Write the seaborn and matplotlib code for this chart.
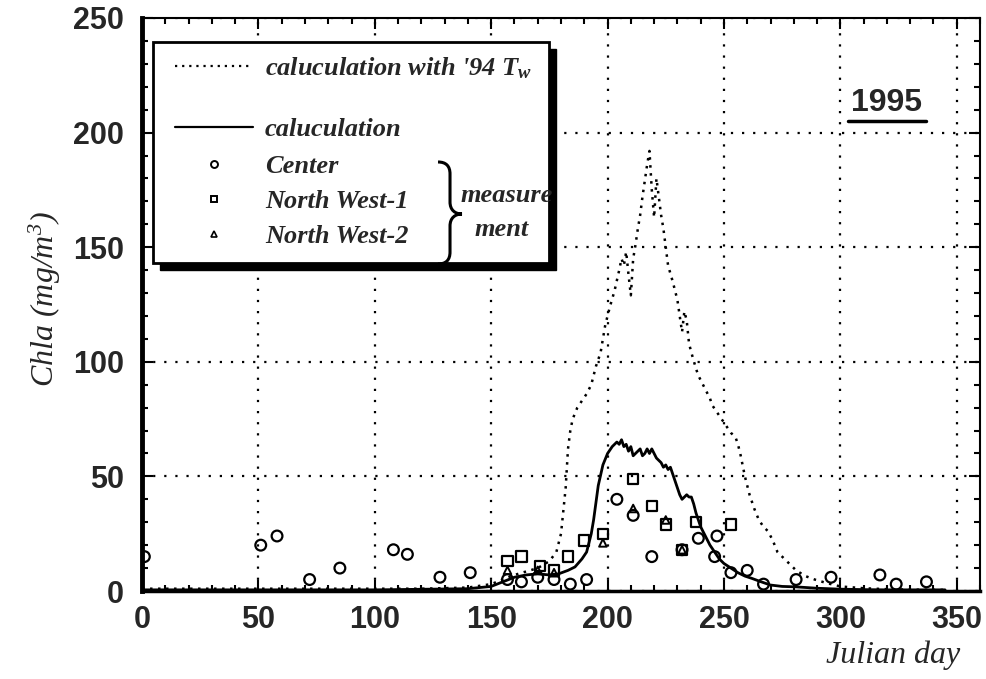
import numpy as np
import pandas as pd
import matplotlib
matplotlib.use('Agg')
import matplotlib.pyplot as plt
import seaborn as sns
from matplotlib.lines import Line2D
from matplotlib.patches import Rectangle, PathPatch
from matplotlib.path import Path
from matplotlib.ticker import MultipleLocator

TICKSLABEL_FONT = {'family': 'Liberation Sans', 'size': 22, 'weight': 'bold'}
LABEL_FONT = {'family': 'Liberation Serif', 'size': 23, 'style': 'italic'}
LEGEND_FONT = {'family': 'Liberation Serif', 'size': 19, 'style': 'italic', 'weight': 'bold'}

# calculation with '94 water temperature (dotted)
calc94_day = [0, 20, 40, 60, 80, 100, 120, 140, 150, 155, 160, 165, 170, 175, 178, 180, 182, 183, 184, 185,
              187, 189, 191, 193, 195, 197, 199, 201, 203, 205, 206, 207, 208, 209, 210, 211, 212, 213, 214,
              215, 216, 217, 218, 219, 220, 221, 222, 223, 224, 225, 226, 228, 230, 231, 232, 233, 234, 235,
              236, 238, 239, 241, 242, 244, 245, 247, 249, 251, 253, 255, 256, 257, 259, 261, 263, 265, 267,
              269, 271, 273, 276, 279, 281, 285, 289, 294, 300, 310, 320, 330, 340, 345]
calc94_chla = [1, 1, 1, 1, 1, 1, 1, 1.5, 3, 5, 7, 8.5, 10, 13, 17, 25, 45, 62, 70, 75,
               80, 83, 86, 90, 98, 104, 116, 124, 131, 140, 145, 142, 148, 138, 129, 145, 151, 158, 164,
               172, 179, 186, 192, 175, 163, 180, 172, 164, 158, 150, 142, 135, 127, 120, 113, 122, 118, 108,
               104, 97, 94, 90, 88, 84, 81, 78, 75, 72, 69, 67, 64, 60, 50, 42, 36, 31, 28,
               26, 22, 17, 14, 11, 9, 6.5, 5, 3.5, 2, 1.2, 0.8, 0.6, 0.5, 0.5]

# calculation (solid)
calc_day = [0, 50, 100, 140, 150, 155, 160, 165, 170, 175, 179, 183, 186, 189, 191, 193, 194, 196, 198, 200,
            202, 204, 205, 206, 207, 208, 209, 210, 211, 212, 213, 214, 215, 216, 217, 218, 219, 220, 221,
            222, 223, 224, 225, 226, 227, 228, 229, 230, 231, 232, 233, 234, 235, 236, 237, 238, 240, 242,
            244, 246, 248, 250, 253, 256, 259, 262, 266, 270, 275, 281, 290, 300, 310, 320, 330, 345]
calc_chla = [0.5, 0.5, 0.5, 1, 2, 4, 6, 7, 7.5, 7, 7.5, 9, 10.5, 14, 17, 25, 31, 46, 55, 60,
             63, 65, 64, 66, 63, 64, 61, 63, 59, 60, 61, 62, 59, 60, 62, 60, 62, 60, 58,
             57, 56, 54, 55, 53, 54, 51, 48, 45, 42, 40, 41, 42, 41, 41, 38, 34, 28, 24,
             20, 17, 14, 12, 10, 8, 6.5, 5.5, 4, 2.6, 2, 1.8, 1.2, 0.8, 0.6, 0.5, 0.5, 0.5]

# measurements
center_day = [1, 51, 58, 72, 85, 108, 114, 128, 141, 157, 163, 170, 177, 184, 191, 204, 211, 219, 232,
              239, 246, 247, 253, 260, 267, 281, 296, 317, 324, 337]
center_chla = [15, 20, 24, 5, 10, 18, 16, 6, 8, 5, 4, 6, 5, 3, 5, 40, 33, 15, 18,
               23, 15, 24, 8, 9, 3, 5, 6, 7, 3, 4]
nw1_day = [157, 163, 171, 177, 183, 190, 198, 211, 219, 225, 232, 238, 253]
nw1_chla = [13, 15, 11, 9, 15, 22, 25, 49, 37, 29, 18, 30, 29]
nw2_day = [157, 170, 177, 198, 211, 225, 232]
nw2_chla = [9, 9, 8, 21, 36, 31, 18]

df94 = pd.DataFrame({'day': calc94_day, 'chla': calc94_chla})
dfc = pd.DataFrame({'day': calc_day, 'chla': calc_chla})

sns.set_style('ticks')
plt.rcParams['mathtext.fontset'] = 'custom'
plt.rcParams['mathtext.it'] = 'Liberation Serif:italic:bold'
plt.rcParams['mathtext.rm'] = 'Liberation Serif:italic'

fig = plt.figure(figsize=(9.87, 6.79), dpi=100)
ax = fig.add_axes([0.1439, 0.1296, 0.849, 0.8439])


def px(x, y):
    # reference pixel position -> axes fraction
    return ((x - 142) / 838, (591 - y) / 573)


dots = (0, (1, 2.2))
sns.lineplot(data=df94, x='day', y='chla', ax=ax, color='black', linestyle=dots, lw=1.8, estimator=None)
sns.lineplot(data=dfc, x='day', y='chla', ax=ax, color='black', lw=2.0, estimator=None)
sns.scatterplot(x=center_day, y=center_chla, ax=ax, marker='o', s=60, facecolors='none',
                edgecolor='black', linewidth=1.6, zorder=4)
sns.scatterplot(x=nw1_day, y=nw1_chla, ax=ax, marker='s', s=55, facecolors='none',
                edgecolor='black', linewidth=1.6, zorder=4)
sns.scatterplot(x=nw2_day, y=nw2_chla, ax=ax, marker='^', s=30, facecolors='none',
                edgecolor='black', linewidth=1.4, zorder=4)

ax.set_xlim(0, 360)
ax.set_ylim(0, 250)
ax.xaxis.set_major_locator(MultipleLocator(50))
ax.xaxis.set_minor_locator(MultipleLocator(10))
ax.yaxis.set_major_locator(MultipleLocator(50))
ax.yaxis.set_minor_locator(MultipleLocator(10))
ax.tick_params(which='both', direction='in', top=True, right=True, color='black', width=1.5)
ax.tick_params(which='major', length=8, pad=10)
ax.tick_params(axis='y', which='major', pad=13)
ax.tick_params(which='minor', length=4)
for lab in ax.get_xticklabels() + ax.get_yticklabels():
    lab.set_fontproperties(TICKSLABEL_FONT)
ax.grid(True, which='major', color='black', linestyle=(0, (1, 4)), lw=1.6)
for sp in ax.spines.values():
    sp.set_color('black')
    sp.set_linewidth(1.5)
ax.spines['left'].set_linewidth(3.5)
ax.spines['bottom'].set_linewidth(2.5)

ax.set_xlabel('')
ax.set_ylabel(r'Chla (mg/m$^{3}$)', fontdict=LABEL_FONT)
ax.yaxis.set_label_coords(-0.094, 0.51)
ax.text(0.976, -0.112, 'Julian day', transform=ax.transAxes, ha='right', va='center', fontdict=LABEL_FONT)

# legend box with drop shadow
x0, y1 = px(153, 42)
x1, y0 = px(549, 263)
ax.add_patch(Rectangle((x0 + 0.008, y0 - 0.012), x1 - x0, y1 - y0, transform=ax.transAxes,
                       facecolor='black', edgecolor='black', zorder=5, clip_on=False))
ax.add_patch(Rectangle((x0, y0), x1 - x0, y1 - y0, transform=ax.transAxes,
                       facecolor='white', edgecolor='black', lw=2, zorder=5.5, clip_on=False))

line_handles = [Line2D([], [], color='black', linestyle=dots, lw=1.6),
                Line2D([], [], color='black', lw=1.6)]
line_labels = ["caluculation with '94 $T_w$", 'caluculation']
mark_handles = [Line2D([], [], color='black', marker='o', ms=5, mfc='none', mew=1.4, ls='none'),
                Line2D([], [], color='black', marker='s', ms=5, mfc='none', mew=1.4, ls='none'),
                Line2D([], [], color='black', marker='^', ms=4, mfc='none', mew=1.2, ls='none')]
mark_labels = ['Center', 'North West-1', 'North West-2']

common = dict(loc='upper left', prop=LEGEND_FONT, frameon=False, handlelength=2.95,
              handletextpad=0.45, borderpad=0, borderaxespad=0)
legA = ax.legend(line_handles, line_labels, bbox_to_anchor=px(175, 55), labelspacing=1.4, **common)
legA.set_zorder(6)
ax.add_artist(legA)
legB = ax.legend(mark_handles, mark_labels, bbox_to_anchor=px(175, 155), labelspacing=0.43, **common)
legB.set_zorder(6)

# brace grouping the measurements
bx = [(438, 162), (446, 162), (450, 166), (450, 174), (450, 202), (450, 210), (455, 214), (462, 214),
      (455, 214), (450, 218), (450, 226), (450, 252), (450, 260), (446, 264), (438, 264)]
codes = [Path.MOVETO, Path.CURVE4, Path.CURVE4, Path.CURVE4, Path.LINETO, Path.CURVE4, Path.CURVE4,
         Path.CURVE4, Path.CURVE4, Path.CURVE4, Path.CURVE4, Path.LINETO, Path.CURVE4, Path.CURVE4, Path.CURVE4]
ax.add_patch(PathPatch(Path([px(*p) for p in bx], codes), transform=ax.transAxes, facecolor='none',
                       edgecolor='black', lw=2.2, zorder=7, clip_on=False))
ax.text(*px(507, 196), 'measure', transform=ax.transAxes, ha='center', va='center',
        fontdict=LEGEND_FONT, zorder=7)
ax.text(*px(502, 230), 'ment', transform=ax.transAxes, ha='center', va='center',
        fontdict=LEGEND_FONT, zorder=7)

ax.text(*px(887, 103), '1995', transform=ax.transAxes, ha='center', va='center',
        family='Liberation Sans', fontsize=23, weight='bold')
ax.plot([px(848, 0)[0], px(926, 0)[0]], [px(0, 121)[1]] * 2, transform=ax.transAxes,
        color='black', lw=2.5, clip_on=False)

plt.savefig('out.png', dpi=100)
